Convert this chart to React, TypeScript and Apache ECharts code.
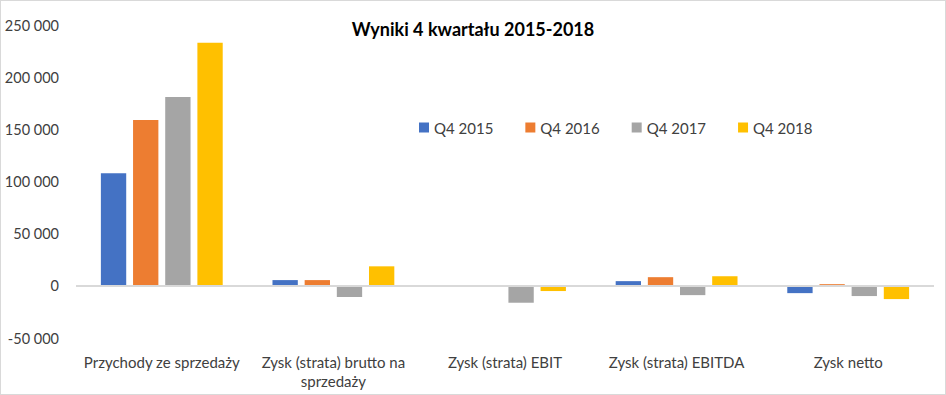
import React, { useEffect, useRef } from "react";
import * as echarts from "echarts";

const categories = [
  "Przychody ze sprzedaży",
  "Zysk (strata) brutto na\nsprzedaży",
  "Zysk (strata) EBIT",
  "Zysk (strata) EBITDA",
  "Zysk netto",
];
const seriesNames = ["Q4 2015", "Q4 2016", "Q4 2017", "Q4 2018"];
const q42015 = [108000, 5500, 0, 4500, -7000];
const q42016 = [159000, 5500, 0, 8300, 1600];
const q42017 = [181000, -10700, -16200, -8900, -9800];
const q42018 = [233000, 18700, -5000, 9200, -12700];
const colors = ["#4472c4", "#ed7d31", "#a5a5a5", "#ffc000"];

const fmt = (v: number) => {
  if (v === 0) return "0";
  const s = Math.abs(v).toString().replace(/\B(?=(\d{3})+(?!\d))/g, " ");
  return (v < 0 ? "-" : "") + s;
};

export default function App() {
  const ref = useRef<HTMLDivElement>(null);
  useEffect(() => {
    if (!ref.current) return;
    const chart = echarts.init(ref.current, null, { renderer: "svg" });
    const font = "Lato, 'Open Sans', sans-serif";
    const data = [q42015, q42016, q42017, q42018];
    chart.setOption({
      animation: false,
      textStyle: { fontFamily: font },
      title: {
        text: "Wyniki 4 kwartału 2015-2018",
        left: "center",
        top: 14,
        textStyle: { fontFamily: font, fontSize: 18, fontWeight: "bold", color: "#000" },
      },
      legend: {
        data: seriesNames,
        left: 413,
        top: 114,
        itemWidth: 10,
        itemHeight: 10,
        itemGap: 32,
        icon: "rect",
        textStyle: { fontFamily: font, fontSize: 15, color: "#404040" },
      },
      grid: { left: 75, right: 11, top: 24, bottom: 56, containLabel: false },
      xAxis: {
        type: "category",
        data: categories,
        axisLine: { show: false },
        axisTick: { show: false },
        axisLabel: { fontFamily: font, fontSize: 15, color: "#404040", margin: 14, interval: 0, lineHeight: 19 },
      },
      yAxis: {
        type: "value",
        min: -50000,
        max: 250000,
        interval: 50000,
        splitLine: { show: false },
        axisLine: { show: false },
        axisTick: { show: false },
        axisLabel: { fontFamily: font, fontSize: 14.5, color: "#404040", margin: 17, formatter: fmt },
      },
      series: seriesNames.map((name, i) => ({
        name,
        type: "bar",
        data: data[i],
        barGap: "27%",
        barCategoryGap: "29%",
        itemStyle: { color: colors[i] },
        ...(i === 0
          ? {
              markLine: {
                silent: true,
                symbol: "none",
                label: { show: false },
                lineStyle: { color: "#d9d9d9", width: 2, type: "solid" },
                data: [{ yAxis: 0 }],
              },
            }
          : {}),
      })),
    });
    return () => chart.dispose();
  }, []);
  return (
    <div
      ref={ref}
      style={{
        position: "absolute",
        left: 0,
        top: 0,
        width: 946,
        height: 395,
        boxSizing: "border-box",
        border: "1px solid #d9d9d9",
        background: "#fff",
      }}
    />
  );
}
